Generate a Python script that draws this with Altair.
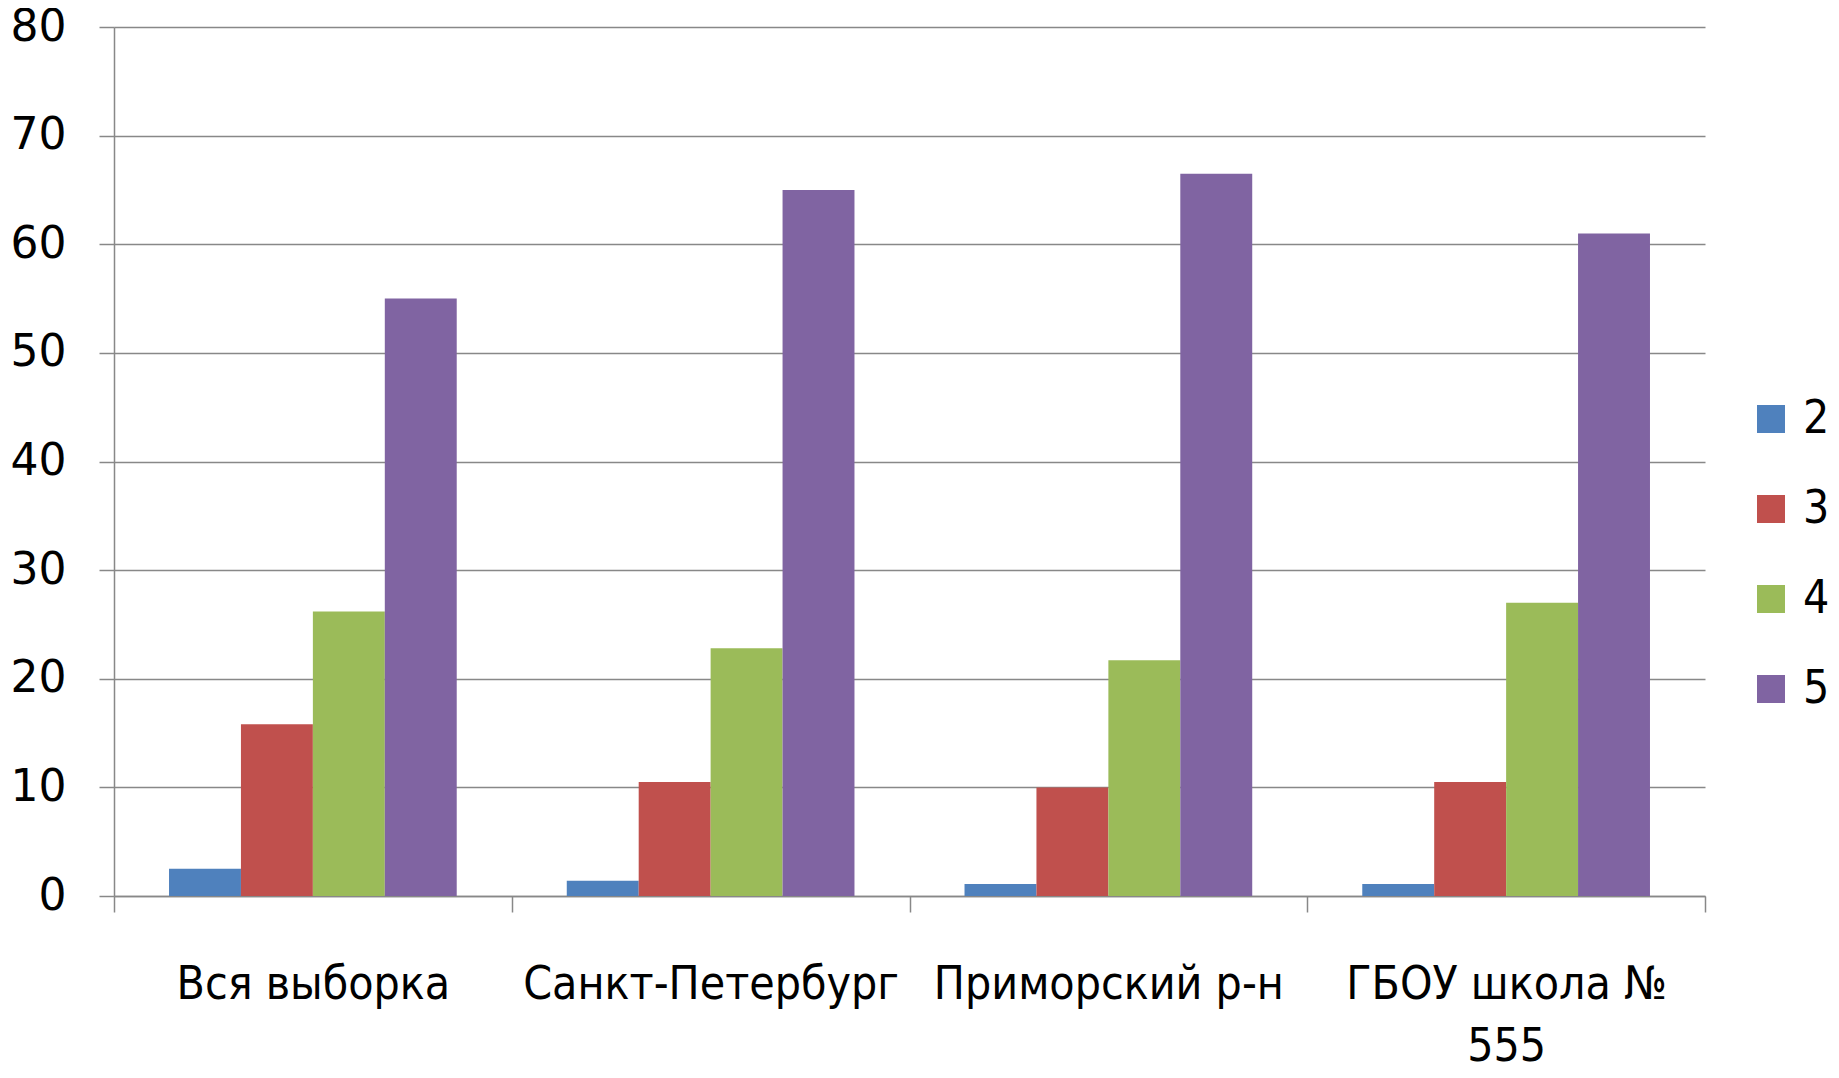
import altair as alt
import pandas as pd

categories = ["Вся выборка", "Санкт-Петербург", "Приморский р-н", "ГБОУ школа № 555"]
series = ["2", "3", "4", "5"]
values_2 = [2.5, 1.4, 1.1, 1.1]
values_3 = [15.8, 10.5, 10.0, 10.5]
values_4 = [26.2, 22.8, 21.7, 27.0]
values_5 = [55.0, 65.0, 66.5, 61.0]
colors = ["#4F81BD", "#C0504D", "#9BBB59", "#8064A2"]
y_ticks = [0, 10, 20, 30, 40, 50, 60, 70, 80]

rows = []
for s, vals in zip(series, [values_2, values_3, values_4, values_5]):
    for c, v in zip(categories, vals):
        rows.append({"cat": c, "series": s, "value": v})
df = pd.DataFrame(rows)

narrow = "'Liberation Sans Narrow', 'DejaVu Sans Condensed', sans-serif"

chart = alt.Chart(df).mark_bar().encode(
    x=alt.X("cat:N", sort=categories, title=None,
            scale=alt.Scale(paddingInner=0, paddingOuter=0),
            axis=alt.Axis(labelAngle=0, tickBand="extent", grid=False,
                          domainColor="#888888", tickColor="#888888", tickSize=16,
                          domainWidth=1.5, tickWidth=1.5,
                          labelFont=narrow, labelFontSize=46, labelColor="#000000",
                          labelPadding=50, labelLineHeight=62, labelLimit=400,
                          labelBaseline="top",
                          labelExpr="datum.label == 'ГБОУ школа № 555' ? ['ГБОУ школа №', '555'] : datum.label")),
    xOffset=alt.XOffset("series:N", sort=series,
                        scale=alt.Scale(paddingInner=0, paddingOuter=0.765)),
    y=alt.Y("value:Q", title=None,
            scale=alt.Scale(domain=[0, 80], nice=False),
            axis=alt.Axis(values=y_ticks, grid=True, gridColor="#888888", gridWidth=1.5,
                          domainColor="#888888", domainWidth=1.5,
                          tickColor="#888888", tickSize=15, tickWidth=1.5,
                          labelFont="DejaVu Sans", labelFontSize=44, labelColor="#000000",
                          labelPadding=33)),
    color=alt.Color("series:N", sort=series, title=None,
                    scale=alt.Scale(domain=series, range=colors),
                    legend=alt.Legend(orient="none", legendX=1634, legendY=369,
                                      symbolType="square", symbolSize=784,
                                      symbolStrokeWidth=0, symbolOpacity=1,
                                      labelFont=narrow, labelFontSize=46,
                                      labelColor="#000000", rowPadding=44,
                                      labelOffset=9)),
).properties(
    width=1591, height=869,
    autosize=alt.AutoSizeParams(type="none"),
    padding={"left": 106, "top": 19, "right": 125, "bottom": 170},
).configure_view(stroke=None).configure_axis(labelOverlap=False)

chart.save("out.html", embed_options={"renderer": "svg", "actions": False})
